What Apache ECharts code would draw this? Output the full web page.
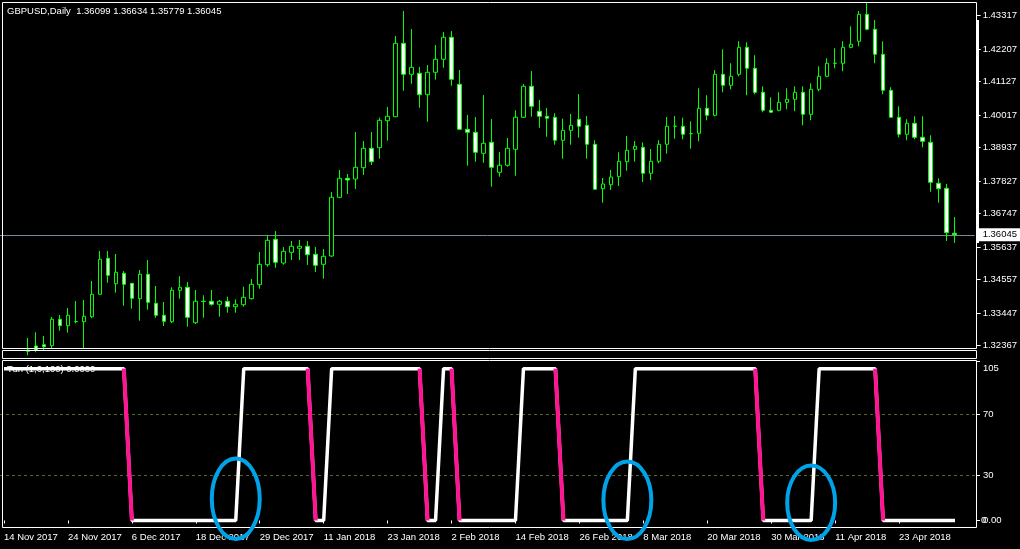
<!DOCTYPE html>
<html>
<head>
<meta charset="utf-8">
<script src="https://cdn.jsdelivr.net/npm/echarts@6/dist/echarts.min.js"></script>
<style>
html,body{margin:0;padding:0;background:#000;}
#chart{width:1020px;height:549px;}
</style>
</head>
<body>
<div id="chart"></div>
<script>
// ---------- data ----------
const symbolName = 'GBPUSD,Daily';
const indicatorTitle = 'Tun (1,0,100) 0.0000';
const startDate = '2017-11-14';
const holidays = ['2017-12-25', '2018-01-01'];

const opens = [1.3205,1.3215,1.3210,1.3222,1.32357,1.32400,1.32367,1.33243,1.33031,1.33163,
1.33163,1.33329,1.34073,1.35267,1.34424,1.34769,1.34437,1.33927,1.34736,1.33774,
1.33376,1.33163,1.34205,1.34305,1.33130,1.33840,1.33840,1.33741,1.33840,1.33661,
1.33727,1.33927,1.34391,1.35055,1.35897,1.35111,1.35466,1.35599,1.35665,1.35400,
1.35068,1.35343,1.37291,1.37922,1.37898,1.38273,1.38917,1.38937,1.39833,1.39966,
1.42401,1.41373,1.41406,1.40696,1.41439,1.41870,1.42600,1.41041,1.39548,1.39448,
1.38751,1.39116,1.38121,1.38353,1.38884,1.39946,1.40974,1.40145,1.39979,1.39946,
1.39183,1.39514,1.39879,1.39680,1.39050,1.37577,1.37709,1.37975,1.38472,1.38884,
1.38950,1.38088,1.38486,1.39050,1.39647,1.39647,1.39400,1.39415,1.40244,1.40012,
1.41373,1.41008,1.41373,1.42268,1.41572,1.40775,1.40178,1.40178,1.40443,1.40543,
1.40775,1.40045,1.40875,1.41306,1.41738,1.41738,1.42268,1.42468,1.43363,1.42866,
1.42036,1.40842,1.39946,1.39382,1.39747,1.39282,1.39116,1.37756,1.37590,1.36099];
const highs = [1.3222,1.3226,1.3227,1.32622,1.32811,1.32689,1.33319,1.33386,1.33618,1.33850,
1.33883,1.34514,1.35509,1.35509,1.35410,1.34846,1.34437,1.34879,1.35211,1.34348,
1.33817,1.34305,1.34670,1.34481,1.34215,1.34039,1.34215,1.33883,1.33993,1.33907,
1.34325,1.34580,1.35476,1.36040,1.36173,1.35642,1.35841,1.35874,1.35841,1.35642,
1.35576,1.37467,1.38197,1.38064,1.39458,1.39159,1.39458,1.39932,1.40288,1.42643,
1.43473,1.42876,1.41615,1.41681,1.42345,1.42776,1.42809,1.41515,1.40022,1.39956,
1.40686,1.39889,1.38794,1.39259,1.40178,1.41051,1.41482,1.40520,1.40254,1.40078,
1.39899,1.40055,1.40719,1.39989,1.39183,1.37932,1.38197,1.38784,1.39325,1.39159,
1.39116,1.38894,1.39183,1.39956,1.39989,1.39932,1.39813,1.40908,1.40676,1.41515,
1.42202,1.41738,1.42468,1.42434,1.42003,1.40974,1.40609,1.40775,1.40908,1.40974,
1.40974,1.41074,1.41638,1.41903,1.42235,1.42468,1.42965,1.43473,1.43762,1.43174,
1.42468,1.40941,1.40311,1.39879,1.39979,1.39979,1.39348,1.37922,1.37733,1.36634];
const lows = [1.3190,1.3198,1.3195,1.3205,1.3215,1.3220,1.3226,1.32865,1.32798,1.33110,
1.3226,1.33286,1.34050,1.34457,1.34126,1.33694,1.33595,1.33196,1.33562,1.33296,
1.33021,1.33120,1.33927,1.32997,1.33087,1.33296,1.33694,1.33329,1.33462,1.33462,
1.33661,1.33900,1.34258,1.34988,1.34955,1.35055,1.35211,1.35211,1.35045,1.34812,
1.34590,1.35310,1.37260,1.37401,1.37567,1.38031,1.38363,1.38572,1.39169,1.39950,
1.40828,1.41061,1.40264,1.39800,1.41193,1.41592,1.40994,1.39530,1.38340,1.38472,
1.38439,1.37643,1.37975,1.38307,1.38008,1.39930,1.39966,1.39601,1.39302,1.39037,
1.38572,1.39037,1.39269,1.38572,1.37533,1.37112,1.37533,1.37666,1.38174,1.38472,
1.37799,1.37865,1.38419,1.38738,1.39236,1.39216,1.38904,1.39149,1.39846,1.39979,
1.40775,1.40875,1.41306,1.40676,1.40709,1.40112,1.40100,1.40145,1.40211,1.40145,
1.39680,1.39846,1.40808,1.41273,1.41572,1.41472,1.42235,1.42302,1.42833,1.41738,
1.40709,1.39930,1.39282,1.39183,1.39216,1.38950,1.37477,1.37112,1.35841,1.35779];
const closes = [1.3215,1.3210,1.3220,1.3218,1.3222,1.32334,1.33243,1.33031,1.33376,1.33170,
1.33342,1.34073,1.35234,1.34703,1.34803,1.34404,1.33940,1.34736,1.33807,1.33376,
1.33177,1.34205,1.34305,1.33309,1.33840,1.33835,1.33741,1.33840,1.33661,1.33741,
1.33973,1.34404,1.35068,1.35864,1.35134,1.35499,1.35665,1.35665,1.35387,1.35035,
1.35333,1.37291,1.37922,1.37865,1.38287,1.38917,1.38472,1.39846,1.39979,1.42401,
1.41373,1.41605,1.40696,1.41439,1.41870,1.42600,1.41207,1.39548,1.39448,1.38784,
1.39083,1.38287,1.38353,1.38917,1.39946,1.40974,1.40311,1.39979,1.39913,1.39183,
1.39514,1.39680,1.39647,1.39050,1.37557,1.37733,1.37965,1.38486,1.38851,1.38983,
1.38088,1.38486,1.39050,1.39647,1.39650,1.39382,1.39405,1.40244,1.40012,1.41373,
1.41008,1.41306,1.42268,1.41572,1.40775,1.40178,1.40112,1.40443,1.40543,1.40775,
1.40045,1.40875,1.41306,1.41738,1.41742,1.42268,1.42368,1.43363,1.42866,1.42036,
1.40842,1.39946,1.39382,1.39747,1.39282,1.39149,1.37789,1.37577,1.36117,1.36045];

// indicator values (one per bar)
const trendValues = [100,100,100,100,100,100,100,100,100,100,100,100,100,100,100,100,
0,0,0,0,0,0,0,0,0,0,0,0,0,0,
100,100,100,100,100,100,100,100,100,
0,0,
100,100,100,100,100,100,100,100,100,100,100,100,
0,0,
100,100,
0,0,0,0,0,0,0,0,
100,100,100,100,100,
0,0,0,0,0,0,0,0,0,
100,100,100,100,100,100,100,100,100,100,100,100,100,100,100,100,
0,0,0,0,0,0,0,
100,100,100,100,100,100,100,100,
0,0,0,0,0,0,0,0,0,0];

const priceTicks = [1.43317,1.42207,1.41127,1.40017,1.38937,1.37827,1.36747,1.35637,1.34557,1.33447,1.32367];
const levelTicks = [0, 30, 70, 105];
const levelLines = [70, 30];
// annotation ellipses: [bar index, value, half-width in bars, half-height in value units]
const annotations = [[28.75, 14.35, 3.2, 26.5], [78.3, 13.3, 2.94, 25.5], [101.25, 11.65, 2.46, 24.5]];

// ---------- helpers ----------
const monthNames = ['Jan','Feb','Mar','Apr','May','Jun','Jul','Aug','Sep','Oct','Nov','Dec'];
function tradingDays(start, n, skip) {
  const out = [];
  const d = new Date(start + 'T00:00:00Z');
  while (out.length < n) {
    const iso = d.toISOString().slice(0, 10);
    const wd = d.getUTCDay();
    if (wd !== 0 && wd !== 6 && skip.indexOf(iso) < 0) {
      out.push(d.getUTCDate() + ' ' + monthNames[d.getUTCMonth()] + ' ' + d.getUTCFullYear());
    }
    d.setUTCDate(d.getUTCDate() + 1);
  }
  return out;
}
const dates = tradingDays(startDate, opens.length, holidays);
const categories = dates.concat([' ', '  ']);
const candles = opens.map((o, i) => [o, closes[i], lows[i], highs[i]]);
const pinkSeg = trendValues.map((v, i) =>
  ((i + 1 < trendValues.length && trendValues[i + 1] < v) || (i > 0 && trendValues[i - 1] > v)) ? v : '-');
const last = opens.length - 1;

const FONT = '"Liberation Sans", Arial, sans-serif';
const FS = 9.5;
const labelInterval = (i) => i % 8 === 0 && i < dates.length;

const chart = echarts.init(document.getElementById('chart'), null, {renderer: 'canvas'});

const option = {
  backgroundColor: '#000000',
  animation: false,
  grid: [
    {left: -1, top: 2.5, width: 976, height: 346},
    {left: -1, top: 360.5, width: 976, height: 167}
  ],
  xAxis: [
    {type: 'category', gridIndex: 0, data: categories, boundaryGap: true,
     axisLine: {show: false}, axisTick: {show: false}, axisLabel: {show: false}, splitLine: {show: false}},
    {type: 'category', gridIndex: 1, data: categories, boundaryGap: true,
     axisLine: {show: false},
     axisTick: {show: true, alignWithLabel: true, interval: labelInterval, length: 3, lineStyle: {color: '#ffffff', width: 1}},
     axisLabel: {show: true, interval: labelInterval, align: 'left', margin: 5, color: '#ffffff', fontFamily: FONT, fontSize: FS},
     splitLine: {show: false}}
  ],
  yAxis: [
    {type: 'value', gridIndex: 0, position: 'right', offset: 2, min: 1.32274, max: 1.43755, scale: true,
     axisLine: {show: false},
     axisTick: {show: true, customValues: priceTicks, length: 4, lineStyle: {color: '#ffffff'}},
     axisLabel: {show: true, customValues: priceTicks, formatter: v => v.toFixed(5), margin: 6,
                 color: '#ffffff', fontFamily: FONT, fontSize: FS},
     splitLine: {show: false}},
    {type: 'value', gridIndex: 1, position: 'right', offset: 2, min: -4.6, max: 105.35,
     axisLine: {show: false},
     axisTick: {show: true, customValues: levelTicks, length: 3, lineStyle: {color: '#ffffff'}},
     axisLabel: {show: true, customValues: levelTicks, margin: 6, color: '#ffffff', fontFamily: FONT, fontSize: FS,
                 formatter: v => v === 0 ? '0.00' : (v === 105 ? '{t|105}' : String(v)),
                 rich: {t: {padding: [14, 0, 0, 0], color: '#ffffff', fontFamily: FONT, fontSize: FS}}},
     splitLine: {show: false}}
  ],
  series: [
    {
      type: 'candlestick', xAxisIndex: 0, yAxisIndex: 0, data: candles, barWidth: 4, z: 2,
      itemStyle: {color: '#000000', color0: '#ffffff', borderColor: '#00ff00', borderColor0: '#00ff00',
                  borderColorDoji: '#00ff00', borderWidth: 1},
      markLine: {
        silent: true, z: 1, symbol: ['none', 'none'], animation: false, precision: 5,
        lineStyle: {color: '#778899', width: 1, type: 'solid'},
        label: {show: true, position: 'end', distance: 2, formatter: p => Number(p.value).toFixed(5),
                backgroundColor: '#ffffff', color: '#000000', padding: [2, 10, 1, 6],
                fontFamily: FONT, fontSize: FS},
        emphasis: {disabled: true},
        data: [{yAxis: closes[last]}]
      }
    },
    {
      type: 'line', xAxisIndex: 1, yAxisIndex: 1, data: trendValues, symbol: 'none', z: 3,
      lineStyle: {color: '#ffffff', width: 3.5}, itemStyle: {color: '#ffffff'},
      markLine: {
        silent: true, z: 1, symbol: ['none', 'none'], animation: false,
        lineStyle: {color: '#55662e', width: 1, type: [3, 3]},
        label: {show: false}, emphasis: {disabled: true},
        data: levelLines.map(v => ({yAxis: v}))
      }
    },
    {
      type: 'line', xAxisIndex: 1, yAxisIndex: 1, data: pinkSeg, symbol: 'none', z: 4, connectNulls: false,
      lineStyle: {color: '#ff1493', width: 4}, itemStyle: {color: '#ff1493'}
    }
  ]
};
chart.setOption(option);

// ---------- frames, texts and annotations ----------
const hdr = symbolName + '  ' + [opens[last], highs[last], lows[last], closes[last]].map(v => v.toFixed(5)).join(' ');
const zeroY = chart.convertToPixel({gridIndex: 1}, [0, 0])[1];
const ell = annotations.map(a => {
  const c = chart.convertToPixel({gridIndex: 1}, [a[0], a[1]]);
  const e = chart.convertToPixel({gridIndex: 1}, [a[0] + a[2], a[1] + a[3]]);
  return {type: 'ellipse', z: 50, silent: true,
          shape: {cx: c[0], cy: c[1], rx: Math.abs(e[0] - c[0]), ry: Math.abs(c[1] - e[1])},
          style: {fill: 'none', stroke: '#00a2e8', lineWidth: 4}};
});
const frameStyle = {fill: 'none', stroke: '#ffffff', lineWidth: 1};
chart.setOption({
  graphic: [
    {type: 'rect', z: 40, silent: true, shape: {x: 2.5, y: 2.5, width: 974, height: 346}, style: frameStyle},
    {type: 'rect', z: 40, silent: true, shape: {x: 2.5, y: 350.5, width: 974, height: 8}, style: frameStyle},
    {type: 'rect', z: 40, silent: true, shape: {x: 2.5, y: 360.5, width: 974, height: 167}, style: frameStyle},
    {type: 'rect', z: 41, silent: true, shape: {x: 976, y: 20, width: 3, height: 223}, style: {fill: '#ffffff'}},
    {type: 'text', z: 45, silent: true, x: 7, y: 11,
     style: {text: hdr, fill: '#ffffff', font: FS + 'px ' + FONT, verticalAlign: 'middle', align: 'left'}},
    {type: 'text', z: 0, zlevel: 0, silent: true, x: 7, y: 369,
     style: {text: indicatorTitle, fill: '#ffffff', font: FS + 'px ' + FONT, verticalAlign: 'middle', align: 'left'}},
    {type: 'text', z: 45, silent: true, x: 981, y: zeroY,
     style: {text: '0', fill: '#ffffff', font: FS + 'px ' + FONT, verticalAlign: 'middle', align: 'left'}}
  ].concat(ell)
});
</script>
</body>
</html>
